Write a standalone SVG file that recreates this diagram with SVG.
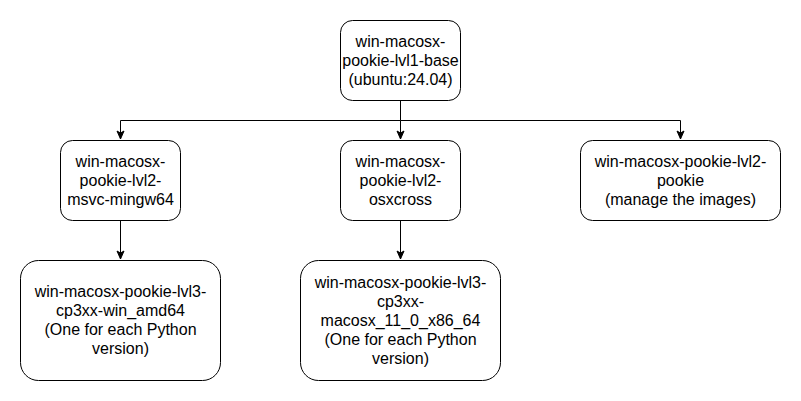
<svg xmlns="http://www.w3.org/2000/svg" width="801" height="401" viewBox="0 0 801 401">
<defs>
<marker id="arr" markerWidth="10" markerHeight="10" refX="9" refY="5" orient="auto" markerUnits="userSpaceOnUse">
<path d="M1,1.5 L9,5 L1,8.5 L3,5 Z" fill="#000" stroke="#000" stroke-width="1"/>
</marker>
<style>
.box{fill:#fff;stroke:#000;stroke-width:1}
.t{font-family:"Liberation Sans",Arial,sans-serif;font-size:16px;fill:#000;text-anchor:middle}
.c{fill:none;stroke:#000;stroke-width:1}
</style>
</defs>
<rect width="801" height="401" fill="#fff"/>
<g id="connectors">
<path class="c" d="M400.5,100 V120.5 H120.5 V139" marker-end="url(#arr)"/>
<path class="c" d="M400.5,120.5 V139" marker-end="url(#arr)"/>
<path class="c" d="M400.5,120.5 H680.5 V139" marker-end="url(#arr)"/>
<path class="c" d="M120.5,220 V259" marker-end="url(#arr)"/>
<path class="c" d="M400.5,220 V259" marker-end="url(#arr)"/>
</g>
<g id="base">
<rect class="box" x="340.5" y="20.5" width="120" height="80" rx="12"/>
<text class="t" x="400.5" y="47">win-macosx-</text>
<text class="t" x="400.5" y="66">pookie-lvl1-base</text>
<text class="t" x="400.5" y="85">(ubuntu:24.04)</text>
</g>
<g id="mingw">
<rect class="box" x="60.5" y="140.5" width="120" height="80" rx="12"/>
<text class="t" x="120.5" y="167">win-macosx-</text>
<text class="t" x="120.5" y="186">pookie-lvl2-</text>
<text class="t" x="120.5" y="205">msvc-mingw64</text>
</g>
<g id="osxcross">
<rect class="box" x="340.5" y="140.5" width="120" height="80" rx="12"/>
<text class="t" x="400.5" y="167">win-macosx-</text>
<text class="t" x="400.5" y="186">pookie-lvl2-</text>
<text class="t" x="400.5" y="205">osxcross</text>
</g>
<g id="pookie">
<rect class="box" x="580.5" y="140.5" width="200" height="80" rx="12"/>
<text class="t" x="680.5" y="167">win-macosx-pookie-lvl2-</text>
<text class="t" x="680.5" y="186">pookie</text>
<text class="t" x="680.5" y="205">(manage the images)</text>
</g>
<g id="win">
<rect class="box" x="20.5" y="260.5" width="200" height="120" rx="18"/>
<text class="t" x="120.5" y="297">win-macosx-pookie-lvl3-</text>
<text class="t" x="120.5" y="316">cp3xx-win_amd64</text>
<text class="t" x="120.5" y="335">(One for each Python</text>
<text class="t" x="120.5" y="354">version)</text>
</g>
<g id="macos">
<rect class="box" x="300.5" y="260.5" width="200" height="120" rx="18"/>
<text class="t" x="400.5" y="288">win-macosx-pookie-lvl3-</text>
<text class="t" x="400.5" y="307">cp3xx-</text>
<text class="t" x="400.5" y="326">macosx_11_0_x86_64</text>
<text class="t" x="400.5" y="345">(One for each Python</text>
<text class="t" x="400.5" y="364">version)</text>
</g>
</svg>
